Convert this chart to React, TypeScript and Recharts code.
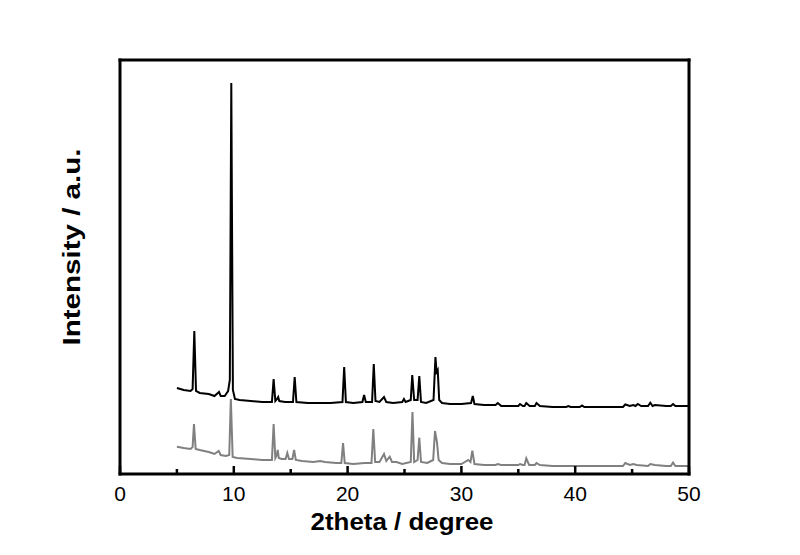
import { LineChart, Line, XAxis, YAxis } from "recharts";

const blackTheta = [
  5.0, 5.6, 6.2, 6.38, 6.53, 6.68, 7.0, 7.8, 8.3, 8.6, 8.7, 8.85, 9.2, 9.5, 9.65, 9.78, 9.92, 10.1, 10.5, 11.5,
  12.5, 13.35, 13.5, 13.65, 13.8, 13.9, 14.0, 14.5, 15.2, 15.35, 15.5, 16.5, 17.5, 18.5, 19.55, 19.7, 19.85, 20.5,
  21.3, 21.45, 21.6, 22.15, 22.3, 22.45, 22.8, 23.2, 23.4, 24.0, 24.8, 24.95, 25.1, 25.55, 25.68, 25.85, 26.15,
  26.3, 26.45, 26.9, 27.55, 27.72, 27.82, 27.92, 28.05, 28.3, 29.0, 30.0, 30.85, 31.0, 31.15, 32.0, 33.0, 33.2,
  33.5, 34.5, 35.0, 35.15, 35.4, 35.55, 35.7, 36.0, 36.45, 36.6, 36.9, 38.0, 39.2, 39.4, 39.6, 40.0, 40.4, 40.6,
  40.8, 41.5, 43.0, 44.2, 44.4, 44.8, 45.1, 45.3, 45.5, 45.8, 46.4, 46.6, 46.8, 47.0, 48.0, 48.4, 48.6, 48.8,
  49.0, 50.0,
];
const blackIntensity = [
  860, 840, 830, 850, 1430, 830, 810, 800, 780, 810, 820, 780, 780, 830, 940, 3910, 840, 750, 740, 730,
  720, 720, 950, 730, 750, 770, 730, 720, 720, 970, 720, 710, 710, 710, 720, 1070, 720, 710,
  720, 790, 720, 720, 1100, 730, 720, 770, 720, 710, 720, 750, 720, 740, 990, 740, 740,
  980, 720, 710, 740, 1170, 1020, 1040, 740, 710, 700, 700, 710, 780, 700, 690, 690, 710,
  680, 680, 680, 700, 680, 680, 710, 680, 680, 710, 680, 670, 670, 680, 670, 670, 670, 685,
  670, 670, 670, 670, 695, 680, 690, 680, 700, 680, 680, 713, 680, 690, 680, 680, 700, 680,
  680, 680,
];

const grayTheta = [
  5.0, 5.6, 6.2, 6.38, 6.5, 6.65, 7.0, 7.8, 8.3, 8.67, 8.85, 9.3, 9.6, 9.74, 9.9, 10.3, 11.5, 12.5, 13.35, 13.5,
  13.65, 13.78, 13.86, 13.95, 14.2, 14.55, 14.7, 14.85, 15.15, 15.3, 15.45, 16.0, 17.0, 17.6, 18.0, 19.0, 19.45,
  19.6, 19.75, 20.5, 21.5, 22.1, 22.26, 22.42, 22.8, 23.2, 23.4, 23.7, 23.9, 24.3, 24.8, 25.55, 25.7, 25.85,
  26.15, 26.3, 26.45, 27.0, 27.52, 27.68, 27.85, 28.0, 28.3, 29.0, 30.0, 30.6, 30.8, 30.96, 31.15, 32.0, 33.0,
  33.2, 33.5, 34.5, 35.0, 35.15, 35.4, 35.55, 35.7, 35.95, 36.45, 36.6, 36.9, 38.0, 40.0, 42.0, 44.2, 44.4, 44.8,
  45.1, 45.4, 46.4, 46.6, 47.0, 48.0, 48.4, 48.6, 48.8, 49.0, 50.0,
];
const grayIntensity = [
  273, 260, 250, 270, 500, 250, 240, 220, 200, 230, 190, 180, 190, 750, 170, 160, 150, 140, 140, 500,
  160, 190, 240, 160, 150, 150, 210, 150, 150, 240, 140, 130, 120, 130, 120, 110, 110,
  310, 110, 100, 110, 110, 450, 120, 120, 200, 130, 173, 120, 120, 100, 120, 620, 120,
  140, 363, 120, 110, 140, 430, 320, 140, 110, 100, 100, 140, 120, 233, 100, 90, 90,
  100, 90, 90, 90, 100, 90, 90, 157, 90, 90, 110, 90, 80, 80, 80, 80, 110, 90,
  100, 90, 80, 100, 90, 80, 80, 115, 80, 80, 80,
];

const xTicks = [0, 5, 10, 15, 20, 25, 30, 35, 40, 45, 50];

const blackData = blackTheta.map((t, i) => ({ theta: t, v: blackIntensity[i] }));
const grayData = grayTheta.map((t, i) => ({ theta: t, v: grayIntensity[i] }));

const FONT = "'Liberation Sans', Arial, sans-serif";
const frame = { stroke: "#000", strokeWidth: 3, strokeLinecap: "square" as const };

function XTick(props: any) {
  const { x, y, payload } = props;
  const base = y - 1;
  const major = payload.value % 10 === 0;
  return (
    <g>
      <line x1={x} x2={x} y1={base} y2={base - (major ? 7 : 4)} stroke="#000" strokeWidth={2.5} />
      {major && (
        <text x={x} y={base + 28} textAnchor="middle" fontSize={21} fontFamily={FONT} fill="#000">
          {payload.value}
        </text>
      )}
    </g>
  );
}

export default function App() {
  return (
    <div style={{ position: "absolute", left: 0, top: 0, background: "#fff" }}>
      <LineChart width={800} height={555} margin={{ top: 59, right: 110, left: 119, bottom: 80 }}>
        <XAxis
          xAxisId="b"
          type="number"
          dataKey="theta"
          domain={[0, 50]}
          ticks={xTicks}
          height={1}
          tickSize={0}
          tickMargin={0}
          tickLine={false}
          tick={<XTick />}
          interval={0}
          allowDataOverflow
          axisLine={frame}
          label={() => (
            <text x={402} y={530} textAnchor="middle" fontSize={24} fontWeight="bold" fontFamily={FONT}
              textLength={183} lengthAdjust="spacingAndGlyphs" fill="#000">
              2theta / degree
            </text>
          )}
        />
        <XAxis
          xAxisId="t"
          orientation="top"
          type="number"
          domain={[0, 50]}
          height={1}
          tick={false}
          tickLine={false}
          axisLine={frame}
        />
        <YAxis
          yAxisId="l"
          type="number"
          domain={[0, 4140]}
          width={1}
          tick={false}
          tickLine={false}
          allowDataOverflow
          axisLine={frame}
          label={() => (
            <text transform="translate(80,247) rotate(-90)" textAnchor="middle" fontSize={24} fontWeight="bold"
              fontFamily={FONT} textLength={197} lengthAdjust="spacingAndGlyphs" fill="#000">
              Intensity / a.u.
            </text>
          )}
        />
        <YAxis
          yAxisId="r"
          orientation="right"
          type="number"
          domain={[0, 4140]}
          width={1}
          tick={false}
          tickLine={false}
          axisLine={frame}
        />
        <Line
          xAxisId="b"
          yAxisId="l"
          data={grayData}
          dataKey="v"
          type="linear"
          stroke="#808080"
          strokeWidth={2}
          dot={false}
          isAnimationActive={false}
        />
        <Line
          xAxisId="b"
          yAxisId="l"
          data={blackData}
          dataKey="v"
          type="linear"
          stroke="#000"
          strokeWidth={2}
          dot={false}
          isAnimationActive={false}
        />
      </LineChart>
    </div>
  );
}
